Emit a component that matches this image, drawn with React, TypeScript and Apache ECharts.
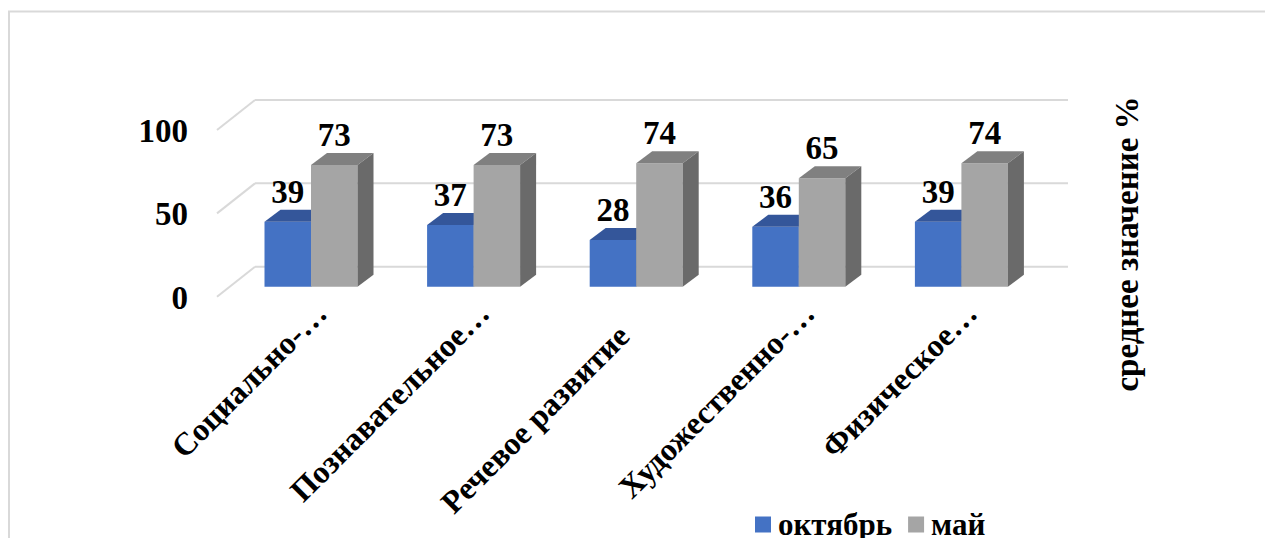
import React, { useEffect, useRef } from "react";
import * as echarts from "echarts";

const categories = ["Социально-…", "Познавательное…", "Речевое развитие", "Художественно-…", "Физическое…"];
const octoberValues = [39, 37, 28, 36, 39];
const mayValues = [73, 73, 74, 65, 74];
const yTicks = [0, 50, 100];
const seriesNames = ["октябрь", "май"];
const axisTitle = "среднее значение %";

const FONT = "'Liberation Serif', 'Times New Roman', serif";
const FS = 33;
const BAR_DX = 16;
const BAR_DY = -12;
const BACK_DX = 25.3;
const BACK_DY = -20;
const FRONT_DX = -12.7;
const FRONT_DY = 10;
const BAR_RATIO = 0.286;
const GRID_COLOR = "#D9D9D9";

function makeBarRenderer(front: string, top: string, side: string, leftOfCenter: boolean) {
  return (params: any, api: any) => {
    const idx = api.value(0);
    const val = api.value(1);
    const pTop = api.coord([idx, val]);
    const pBase = api.coord([idx, 0]);
    const band = api.size([1, 0])[0];
    const w = band * BAR_RATIO;
    const x0 = leftOfCenter ? pTop[0] - w : pTop[0];
    const x1 = x0 + w;
    const yT = pTop[1];
    const yB = pBase[1];
    return {
      type: "group",
      children: [
        { type: "rect", shape: { x: x0, y: yT, width: w, height: yB - yT }, style: { fill: front } },
        {
          type: "polygon",
          shape: { points: [[x0, yT], [x1, yT], [x1 + BAR_DX, yT + BAR_DY], [x0 + BAR_DX, yT + BAR_DY]] },
          style: { fill: top },
        },
        {
          type: "polygon",
          shape: { points: [[x1, yT], [x1 + BAR_DX, yT + BAR_DY], [x1 + BAR_DX, yB + BAR_DY], [x1, yB]] },
          style: { fill: side },
        },
        {
          type: "text",
          style: {
            text: String(val),
            x: (x0 + x1) / 2,
            y: yT - 30,
            align: "center",
            verticalAlign: "middle",
            fontSize: FS,
            fontWeight: "bold",
            fontFamily: FONT,
            fill: "#000",
          },
        },
      ],
    };
  };
}

function renderGridLine(params: any, api: any) {
  const v = api.value(1);
  const y = api.coord([0, v])[1];
  const cs = params.coordSys;
  const bx0 = cs.x + BACK_DX;
  const bx1 = cs.x + cs.width + BACK_DX;
  const by = y + BACK_DY;
  const st = { stroke: GRID_COLOR, lineWidth: 2 };
  return {
    type: "group",
    children: [
      { type: "line", shape: { x1: bx0, y1: by, x2: bx1, y2: by }, style: st },
      { type: "line", shape: { x1: cs.x + FRONT_DX, y1: y + FRONT_DY, x2: bx0, y2: by }, style: st },
    ],
  };
}

export default function App() {
  const ref = useRef<HTMLDivElement>(null);
  useEffect(() => {
    if (!ref.current) return;
    const chart = echarts.init(ref.current, undefined, { renderer: "svg" });
    const labelStyle = { fontSize: FS, fontWeight: "bold" as const, fontFamily: FONT, color: "#000" };
    chart.setOption({
      animation: false,
      backgroundColor: "#fff",
      grid: [
        { left: 229.7, right: 222.3, top: 120, bottom: 251.3 },
        { left: 239.7, right: 212.3, top: 131, bottom: 240.3 },
      ],
      xAxis: [
        {
          type: "category",
          gridIndex: 0,
          data: categories,
          axisLine: { show: false },
          axisTick: { show: false },
          axisLabel: { show: false },
          splitLine: { show: false },
        },
        {
          type: "category",
          gridIndex: 1,
          data: categories.map((c) =>
            c === "Речевое развитие" ? { value: c, textStyle: { padding: [0, 32, 0, 0] } } : c
          ),
          axisLine: { show: false },
          axisTick: { show: false },
          splitLine: { show: false },
          axisLabel: { ...labelStyle, fontSize: 32, rotate: 45, margin: 10, interval: 0 },
        },
      ],
      yAxis: [
        {
          type: "value",
          gridIndex: 0,
          min: 0,
          max: 100,
          interval: 50,
          axisLine: { show: false },
          axisTick: { show: false },
          splitLine: { show: false },
          axisLabel: { show: false },
        },
        {
          type: "value",
          gridIndex: 1,
          min: 0,
          max: 100,
          interval: 50,
          axisLine: { show: false },
          axisTick: { show: false },
          splitLine: { show: false },
          axisLabel: { ...labelStyle, margin: 51.7 },
        },
      ],
      legend: {
        data: seriesNames,
        left: 750,
        top: 504,
        itemWidth: 16,
        itemHeight: 16,
        itemGap: 16,
        icon: "rect",
        textStyle: { ...labelStyle, fontSize: 31, padding: [0, 0, 0, 2] },
      },
      graphic: [
        {
          type: "rect",
          shape: { x: 9, y: 11.5, width: 1300, height: 600 },
          style: { fill: "none", stroke: "#D9D9D9", lineWidth: 2 },
          z: -1,
        },
        {
          type: "text",
          x: 1127,
          y: 244,
          rotation: Math.PI / 2,
          style: {
            text: axisTitle,
            align: "center",
            verticalAlign: "middle",
            fontSize: FS,
            fontWeight: "bold",
            fontFamily: FONT,
            fill: "#000",
          },
        },
      ],
      series: [
        {
          type: "custom",
          name: "grid",
          xAxisIndex: 0,
          yAxisIndex: 0,
          data: yTicks.map((v) => [0, v]),
          encode: { x: 0, y: 1 },
          renderItem: renderGridLine,
          silent: true,
          z: 1,
        },
        {
          type: "custom",
          name: seriesNames[0],
          xAxisIndex: 0,
          yAxisIndex: 0,
          data: octoberValues.map((v, i) => [i, v]),
          encode: { x: 0, y: 1 },
          itemStyle: { color: "#4472C4" },
          renderItem: makeBarRenderer("#4472C4", "#34569A", "#2B4A86", true),
          z: 2,
        },
        {
          type: "custom",
          name: seriesNames[1],
          xAxisIndex: 0,
          yAxisIndex: 0,
          data: mayValues.map((v, i) => [i, v]),
          encode: { x: 0, y: 1 },
          itemStyle: { color: "#A5A5A5" },
          renderItem: makeBarRenderer("#A5A5A5", "#808080", "#6A6A6A", false),
          z: 3,
        },
      ],
    });
    return () => chart.dispose();
  }, []);
  return <div ref={ref} style={{ position: "fixed", left: 0, top: 0, width: 1265, height: 538 }} />;
}
